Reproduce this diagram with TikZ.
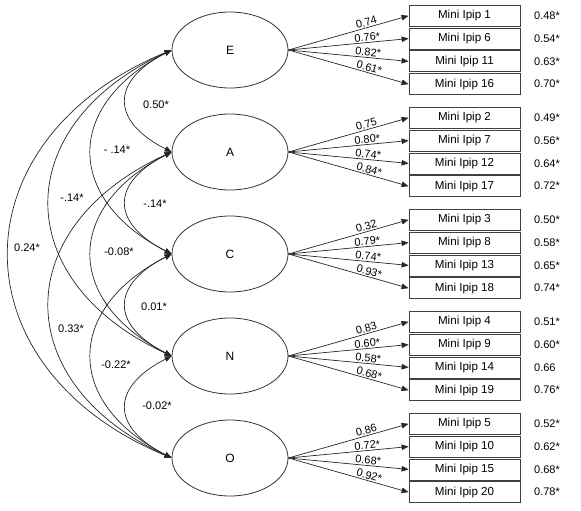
\documentclass[tikz,border=0pt]{standalone}
\usepackage{fontspec}
\setmainfont{Liberation Sans}
\usetikzlibrary{arrows.meta,shapes.geometric}
\newcommand{\ipipgroup}[4]{%
  \foreach \l/\v [count=\j from 0] in {#4} {
    \pgfmathtruncatemacro{\num}{#3+5*\j}
    \pgfmathsetmacro{\yy}{#2-34.2+22.8*\j}
    \node[obs] (i\num) at (464.5,\yy) {Mini Ipip \num};
    \node[val] (v\num) at (534,\yy) {\v};
    \draw[load] (#1.east) -- node[llab] {\l} (i\num.west);
  }}
\begin{document}
\begin{tikzpicture}[x=1pt,y=-1pt,
  lat/.style={ellipse, draw=black!80, line width=0.8pt, minimum width=116pt, minimum height=76pt, inner sep=0pt, font=\fontsize{12}{13}\selectfont},
  obs/.style={rectangle, draw=black!75, line width=0.8pt, minimum width=111pt, minimum height=21pt, inner sep=0pt, font=\fontsize{11.6}{13}\selectfont},
  val/.style={anchor=west, inner sep=0pt, font=\fontsize{11}{12}\selectfont},
  load/.style={draw=black!85, line width=0.7pt, -{Triangle[length=7pt,width=5.5pt]}},
  llab/.style={sloped, above, pos=0.66, inner sep=1pt, font=\fontsize{11}{12}\selectfont},
  cov/.style={draw=black!85, line width=0.7pt, {Triangle[length=7pt,width=5.5pt]}-{Triangle[length=7pt,width=5.5pt]}},
  clab/.style={inner sep=0pt, font=\fontsize{11}{12}\selectfont}
]
\useasboundingbox (0,0) rectangle (581,511);
\foreach \n/\y in {E/50, A/152, C/254, N/356, O/458} \node[lat] (\n) at (230,\y) {\n};

\ipipgroup{E}{50}{1}{0.74/0.48*,0.76*/0.54*,0.82*/0.63*,0.61*/0.70*}
\ipipgroup{A}{152}{2}{0.75/0.49*,0.80*/0.56*,0.74*/0.64*,0.84*/0.72*}
\ipipgroup{C}{254}{3}{0.32/0.50*,0.79*/0.58*,0.74*/0.65*,0.93*/0.74*}
\ipipgroup{N}{356}{4}{0.83/0.51*,0.60*/0.60*,0.58*/0.66,0.68*/0.76*}
\ipipgroup{O}{458}{5}{0.86/0.52*,0.72*/0.62*,0.68*/0.68*,0.92*/0.78*}

% span 1
\draw[cov] (E.west) .. controls +(-61,31) and +(-61,-31) .. (A.west);
\draw[cov] (A.west) .. controls +(-61,31) and +(-61,-31) .. (C.west);
\draw[cov] (C.west) .. controls +(-61,31) and +(-61,-31) .. (N.west);
\draw[cov] (N.west) .. controls +(-61,31) and +(-61,-31) .. (O.west);
% span 2
\draw[cov] (E.west) .. controls +(-107,55) and +(-107,-55) .. (C.west);
\draw[cov] (A.west) .. controls +(-107,55) and +(-107,-55) .. (N.west);
\draw[cov] (C.west) .. controls +(-107,55) and +(-107,-55) .. (O.west);
% span 3
\draw[cov] (E.west) .. controls +(-163,75) and +(-163,-75) .. (N.west);
\draw[cov] (A.west) .. controls +(-163,75) and +(-163,-75) .. (O.west);
% span 4
\draw[cov] (E.west) .. controls +(-217,90) and +(-217,-90) .. (O.west);

\node[clab] (cEA) at (156,105) {0.50*};
\node[clab] (cEC) at (117,150) {- .14*};
\node[clab] (cEN) at (72,198) {-.14*};
\node[clab] (cAC) at (155,204) {-.14*};
\node[clab] (cEO) at (27,248) {0.24*};
\node[clab] (cAN) at (119,252) {-0.08*};
\node[clab] (cCN) at (154,307) {0.01*};
\node[clab] (cAO) at (71,329) {0.33*};
\node[clab] (cCO) at (116,365) {-0.22*};
\node[clab] (cNO) at (157,406) {-0.02*};
\end{tikzpicture}
\end{document}
